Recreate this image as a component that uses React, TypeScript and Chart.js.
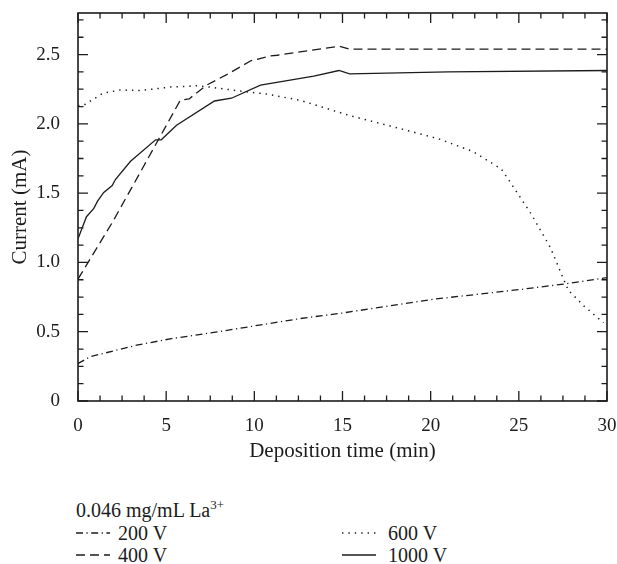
import React, { useEffect, useRef } from "react";
import { Chart, registerables } from "chart.js";

Chart.register(...registerables);

// ---- data ----
const t200 = [0, 0.7, 3.4, 5.3, 7.7, 10.9, 12.6, 15, 20.2, 25.1, 27.6, 30];
const i200 = [0.27, 0.32, 0.405, 0.45, 0.495, 0.56, 0.595, 0.635, 0.735, 0.805, 0.845, 0.89];

const t400 = [0, 2.0, 5.8, 6.3, 7.3, 8.5, 9.8, 10.9, 11.3, 14.8, 15.4, 30];
const i400 = [0.88, 1.3, 2.17, 2.18, 2.28, 2.36, 2.455, 2.49, 2.495, 2.56, 2.54, 2.54];

const t600 = [0, 0.4, 1.4, 2.4, 3.5, 5.2, 6.8, 7.5, 9.0, 10.7, 12.6, 15.4, 18.3, 20.5, 22.4, 24.0, 24.4, 25.7, 26.8, 27.5, 27.8, 28.7, 29.8];
const i600 = [2.13, 2.14, 2.22, 2.245, 2.24, 2.265, 2.275, 2.265, 2.24, 2.215, 2.17, 2.06, 1.965, 1.89, 1.8, 1.675, 1.6, 1.35, 1.105, 0.89, 0.8, 0.685, 0.565];

const t1000 = [0, 0.48, 0.9, 1.1, 1.46, 1.94, 2.13, 2.98, 4.4, 4.72, 5.59, 7.74, 8.7, 10.35, 13.37, 14.8, 15.4, 21, 30];
const i1000 = [1.17, 1.33, 1.39, 1.44, 1.505, 1.555, 1.6, 1.73, 1.885, 1.885, 1.99, 2.165, 2.185, 2.28, 2.345, 2.385, 2.36, 2.375, 2.385];

const xTickValues = [0, 5, 10, 15, 20, 25, 30];
const yTickValues = [0, 0.5, 1.0, 1.5, 2.0, 2.5];
const X_MIN = 0, X_MAX = 30, X_MINOR = 1.25, X_MAJOR = 5;
const Y_MIN = 0, Y_MAX = 2.8, Y_MINOR = 0.125, Y_MAJOR = 0.5;

const xTitle = "Deposition time (min)";
const yTitle = "Current (mA)";

const INK = "#1c1c1c";
const SERIF = "'Liberation Serif', 'DejaVu Serif', serif";

const toPts = (xs: number[], ys: number[]) => xs.map((x, i) => ({ x, y: ys[i] }));

const framePlugin = {
  id: "frameTicks",
  afterDraw(chart: any) {
    const ctx: CanvasRenderingContext2D = chart.ctx;
    const { left, right, top, bottom } = chart.chartArea;
    const xs = chart.scales["x"];
    const ys = chart.scales["y"];
    ctx.save();
    ctx.setLineDash([]);
    ctx.strokeStyle = INK;
    ctx.lineCap = "butt";
    ctx.lineWidth = 1.6;
    ctx.strokeRect(left, top, right - left, bottom - top);
    ctx.lineWidth = 1.3;
    const nx = Math.round((X_MAX - X_MIN) / X_MINOR);
    for (let k = 0; k <= nx; k++) {
      const v = X_MIN + k * X_MINOR;
      const px = xs.getPixelForValue(v);
      const major = Math.abs(v / X_MAJOR - Math.round(v / X_MAJOR)) < 1e-6;
      const len = major ? 10 : 5.5;
      ctx.beginPath();
      ctx.moveTo(px, bottom);
      ctx.lineTo(px, bottom - len);
      ctx.moveTo(px, top);
      ctx.lineTo(px, top + len);
      ctx.stroke();
    }
    const ny = Math.floor((Y_MAX - Y_MIN) / Y_MINOR + 1e-6);
    for (let k = 0; k <= ny; k++) {
      const v = Y_MIN + k * Y_MINOR;
      const py = ys.getPixelForValue(v);
      const major = Math.abs(v / Y_MAJOR - Math.round(v / Y_MAJOR)) < 1e-6;
      const len = major ? 10 : 5.5;
      ctx.beginPath();
      ctx.moveTo(left, py);
      ctx.lineTo(left + len, py);
      ctx.moveTo(right, py);
      ctx.lineTo(right - len, py);
      ctx.stroke();
    }
    ctx.restore();
  },
};

const series = [
  { label: "200 V", xs: t200, ys: i200, dash: [7, 3.5, 1.2, 3.5], width: 1.3 },
  { label: "400 V", xs: t400, ys: i400, dash: [9, 5], width: 1.3 },
  { label: "600 V", xs: t600, ys: i600, dash: [1.4, 5], width: 1.5 },
  { label: "1000 V", xs: t1000, ys: i1000, dash: [], width: 1.3 },
];

function Sample({ dash, width }: { dash: number[]; width: number }) {
  return (
    <svg width="34" height="10" style={{ display: "block" }}>
      <line
        x1="0"
        y1="5"
        x2="34"
        y2="5"
        stroke={INK}
        strokeWidth={width}
        strokeDasharray={dash.length ? dash.join(" ") : undefined}
      />
    </svg>
  );
}

const zeroPad = (s: any) => {
  s.paddingLeft = 0;
  s.paddingRight = 0;
  s.paddingTop = 0;
  s.paddingBottom = 0;
};

export default function App() {
  const ref = useRef<HTMLCanvasElement | null>(null);

  useEffect(() => {
    if (!ref.current) return;
    const chart = new Chart(ref.current, {
      type: "line",
      data: {
        datasets: series.map((s) => ({
          label: s.label,
          data: toPts(s.xs, s.ys),
          borderColor: INK,
          borderWidth: s.width,
          borderDash: s.dash,
          pointRadius: 0,
          tension: 0,
          fill: false,
        })),
      },
      options: {
        animation: false,
        responsive: false,
        maintainAspectRatio: false,
        events: [],
        layout: { padding: { left: 0, right: 10, top: 13, bottom: 0 } },
        plugins: { legend: { display: false }, tooltip: { enabled: false } },
        scales: {
          x: {
            type: "linear",
            min: X_MIN,
            max: X_MAX,
            grid: { display: false },
            border: { display: false },
            afterFit: (s: any) => {
              s.height = 69;
              zeroPad(s);
            },
            afterBuildTicks: (s: any) => {
              s.ticks = xTickValues.map((v) => ({ value: v }));
            },
            ticks: {
              padding: 6,
              color: INK,
              font: { family: SERIF, size: 19 },
              maxRotation: 0,
              callback: (v: any) => String(v),
            },
            title: {
              display: true,
              text: xTitle,
              color: INK,
              font: { family: SERIF, size: 21 },
              padding: { top: 0, bottom: 6 },
            },
          },
          y: {
            type: "linear",
            min: Y_MIN,
            max: Y_MAX,
            grid: { display: false },
            border: { display: false },
            afterFit: (s: any) => {
              s.width = 78;
              zeroPad(s);
            },
            afterBuildTicks: (s: any) => {
              s.ticks = yTickValues.map((v) => ({ value: v }));
            },
            ticks: {
              padding: 10,
              color: INK,
              font: { family: SERIF, size: 19 },
              callback: (v: any) => (Number(v) === 0 ? "0" : Number(v).toFixed(1)),
            },
            title: {
              display: true,
              text: yTitle,
              color: INK,
              font: { family: SERIF, size: 21 },
              padding: { top: 8, bottom: 0 },
            },
          },
        },
      },
      plugins: [framePlugin],
    });
    return () => chart.destroy();
  }, []);

  const textStyle: React.CSSProperties = {
    fontFamily: SERIF,
    fontSize: 20,
    color: INK,
    lineHeight: "20px",
    whiteSpace: "nowrap",
  };

  const item = (s: (typeof series)[number], left: number, top: number, textLeft: number) => (
    <div key={s.label} style={{ position: "absolute", left, top, display: "flex", alignItems: "center", height: 20 }}>
      <Sample dash={s.dash} width={s.width} />
      <span style={{ ...textStyle, position: "absolute", left: textLeft }}>{s.label}</span>
    </div>
  );

  return (
    <div style={{ position: "fixed", left: 0, top: 0, width: 617, height: 564, background: "#fff", overflow: "hidden" }}>
      <canvas ref={ref} width={617} height={470} style={{ position: "absolute", left: 0, top: 0, width: 617, height: 470 }} />
      <div style={{ ...textStyle, position: "absolute", left: 76, top: 500 }}>
        0.046 mg/mL La<sup style={{ fontSize: 13, lineHeight: 0, verticalAlign: "8px" }}>3+</sup>
      </div>
      {item(series[0], 76, 523, 42)}
      {item(series[1], 76, 545, 42)}
      {item(series[2], 342, 523, 46)}
      {item(series[3], 342, 545, 46)}
    </div>
  );
}
